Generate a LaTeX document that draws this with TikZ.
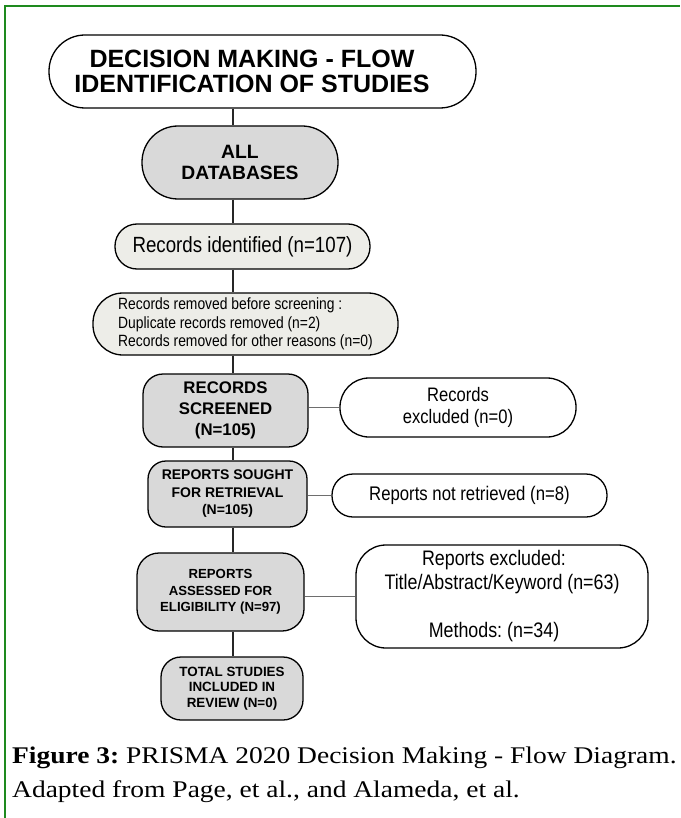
\documentclass[tikz,border=0pt]{standalone}
\usepackage{fontspec}
\setmainfont{Liberation Serif}
\newfontfamily\hsans{Liberation Sans}
\newfontfamily\nsans[FakeStretch=0.85]{Liberation Sans}
\newfontfamily\capfont[FakeStretch=1.15]{Liberation Serif}
\definecolor{boxgray}{HTML}{D9D9D9}
\definecolor{palegray}{HTML}{EDEDE8}
\definecolor{framegreen}{HTML}{1E8A1E}
\definecolor{linkgray}{HTML}{6E6E6E}
\frenchspacing
\begin{document}
\begin{tikzpicture}[x=1pt,y=-1pt,
  box/.style={draw=black, line width=1.3pt, inner sep=0pt, align=center},
  link/.style={draw=black!85, line width=1.2pt},
  sidelink/.style={draw=linkgray, line width=1.1pt}]
\useasboundingbox (0,0) rectangle (680,818);
\fill[white] (0,0) rectangle (680,818);
\draw[framegreen, line width=2.2pt] (5,818) -- (5,6) -- (680,6);
\coordinate (spine) at (233,0);

\node[box, fill=white, minimum width=427pt, minimum height=73pt, rounded corners=36pt,
  font={\hsans\bfseries\fontsize{25}{25}\selectfont}] (title) at (262.5,71.5)
  {DECISION MAKING - FLOW\hspace*{21pt}\\IDENTIFICATION OF STUDIES\hspace*{21pt}};

\node[box, fill=boxgray, minimum width=196pt, minimum height=73pt, rounded corners=36pt,
  font={\hsans\bfseries\fontsize{19.3}{21}\selectfont}] (alldb) at (240,162.5)
  {ALL\\DATABASES};

\node[box, fill=palegray, minimum width=255pt, minimum height=45pt, rounded corners=22pt,
  font={\nsans\fontsize{22}{24}\selectfont}] (ident) at (242.5,246.5)
  {Records identified (n=107)};

\node[box, fill=palegray, minimum width=305pt, minimum height=62pt, rounded corners=30pt,
  align=left,
  font={\nsans\fontsize{16.3}{18.5}\selectfont}] (removed) at (245.5,324)
  {Records removed before screening :\\Duplicate records removed (n=2)\\Records removed for other reasons (n=0)};

\node[box, fill=boxgray, minimum width=165pt, minimum height=73pt, rounded corners=20pt,
  font={\hsans\bfseries\fontsize{16.8}{21}\selectfont}] (screened) at (225.5,410.5)
  {RECORDS\\SCREENED\\(N=105)};

\node[box, fill=white, minimum width=236pt, minimum height=59pt, rounded corners=29pt,
  font={\nsans\fontsize{19.5}{22}\selectfont}] (excluded) at (458,407.5)
  {Records\\excluded (n=0)};

\node[box, fill=boxgray, minimum width=159pt, minimum height=66pt, rounded corners=18pt,
  font={\hsans\bfseries\fontsize{14}{17.5}\selectfont}] (sought) at (227.5,494)
  {REPORTS SOUGHT\\FOR RETRIEVAL\\(N=105)};

\node[box, fill=white, minimum width=275pt, minimum height=43pt, rounded corners=21pt,
  font={\nsans\fontsize{19.7}{22}\selectfont}] (notret) at (469.5,495.5)
  {Reports not retrieved (n=8)};

\node[box, fill=boxgray, minimum width=167pt, minimum height=78pt, rounded corners=22pt,
  font={\hsans\bfseries\fontsize{13.2}{16.5}\selectfont}] (assessed) at (220.5,592)
  {REPORTS\\ASSESSED FOR\\ELIGIBILITY (N=97)};

\node[box, fill=white, minimum width=292pt, minimum height=103pt, rounded corners=30pt,
  font={\nsans\fontsize{21}{24}\selectfont}] (repexcl) at (502,596.5)
  {Reports excluded:\hspace*{16pt}\\Title/Abstract/Keyword (n=63)\hspace*{16pt}\\ \\Methods: (n=34)\hspace*{16pt}};

\node[box, fill=boxgray, minimum width=142pt, minimum height=63pt, rounded corners=20pt,
  font={\hsans\bfseries\fontsize{13.4}{15.5}\selectfont}] (total) at (232,688.5)
  {TOTAL STUDIES\\INCLUDED IN\\REVIEW (N=0)};

\draw[link] (title.south -| spine) -- (alldb.north -| spine);
\draw[link] (alldb.south -| spine) -- (ident.north -| spine);
\draw[link] (ident.south -| spine) -- (removed.north -| spine);
\draw[link] (removed.south -| spine) -- (screened.north -| spine);
\draw[link] (screened.south -| spine) -- (sought.north -| spine);
\draw[link] (sought.south -| spine) -- (assessed.north -| spine);
\draw[link] (assessed.south -| spine) -- (total.north -| spine);
\draw[sidelink] (excluded.west -| screened.east) -- (excluded.west);
\draw[sidelink] (notret.west -| sought.east) -- (notret.west);
\draw[sidelink] (repexcl.west -| assessed.east) -- (repexcl.west);

\node[anchor=base west, inner sep=0pt, font={\capfont\fontsize{23.9}{28}\selectfont}] (cap1) at (12,763)
  {\textbf{Figure 3:} PRISMA 2020 Decision Making - Flow Diagram.};
\node[anchor=base west, inner sep=0pt, font={\capfont\fontsize{23.9}{28}\selectfont}] (cap2) at (12,797)
  {Adapted from Page, et al., and Alameda, et al.};
\end{tikzpicture}
\end{document}
